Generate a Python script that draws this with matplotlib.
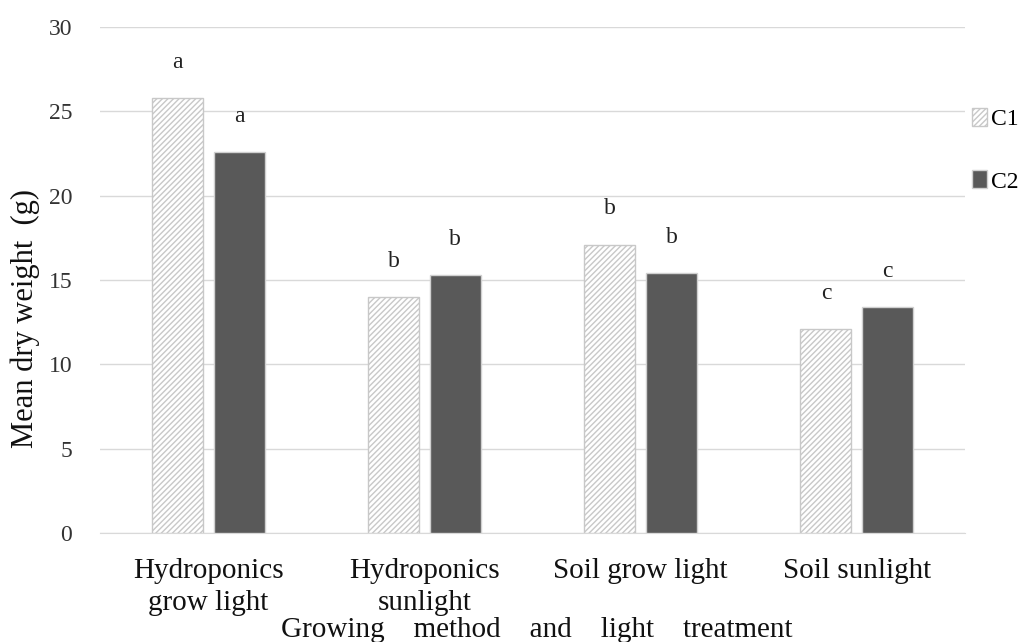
import matplotlib
matplotlib.use("Agg")
import matplotlib.pyplot as plt
import numpy as np

plt.rcParams["font.family"] = ["Liberation Serif", "DejaVu Serif"]
plt.rcParams["hatch.linewidth"] = 1.0

categories = ["Hydroponics\ngrow light", "Hydroponics\nsunlight", "Soil grow light", "Soil sunlight"]
c1 = [25.8, 14.0, 17.1, 12.1]
c2 = [22.6, 15.3, 15.4, 13.4]
c1_letters = ["a", "b", "b", "c"]
c2_letters = ["a", "b", "b", "c"]

fig = plt.figure(figsize=(10.18, 6.42), dpi=100)
ax = fig.add_axes([100 / 1018, 1 - 533 / 642, 865 / 1018, 506 / 642])

x = np.arange(len(categories))
w = 0.236
off = 0.143
ax.bar(x - off, c1, w, color="white", edgecolor="#c8c8c8", hatch="//////", lw=1.0, label="C1", zorder=3)
ax.bar(x + off, c2, w, color="#595959", edgecolor="#d0d0d0", lw=1.0, label="C2", zorder=3)

for xi, v, t in zip(x - off, c1, c1_letters):
    ax.text(xi, v + 1.5, t, ha="center", va="bottom", fontsize=17, color="#222222")
for xi, v, t in zip(x + off, c2, c2_letters):
    ax.text(xi, v + 1.5, t, ha="center", va="bottom", fontsize=17, color="#222222")

ax.set_xlim(-0.5, 3.5)
ax.set_ylim(0, 30)
ax.set_yticks(range(0, 31, 5))
ax.yaxis.grid(True, color="#d9d9d9", lw=1.0, zorder=0)
ax.set_axisbelow(True)
for s in ["top", "right", "left"]:
    ax.spines[s].set_visible(False)
ax.spines["bottom"].set_color("#d9d9d9")
ax.tick_params(axis="both", length=0, colors="#333333")
ax.tick_params(axis="y", pad=20, labelsize=17)
ax.set_xticks(x)
ax.set_xticklabels(categories, fontsize=21, color="#111111", linespacing=1.3)
ax.tick_params(axis="x", pad=18)

ax.set_ylabel("Mean dry weight  (g)", fontsize=22, color="#111111")
ax.yaxis.set_label_coords(-60 / 865, (533 - 318) / 506)
fig.text(537 / 1018, 1 - 630 / 642, "Growing    method    and    light    treatment",
         fontsize=21, color="#111111", ha="center", va="center")

fig.legend(loc="upper left", bbox_to_anchor=(972 / 1018, 1 - 108 / 642), frameon=False, fontsize=17,
           handlelength=0.65, handleheight=0.8, handletextpad=0.15, labelspacing=1.7,
           borderaxespad=0, borderpad=0)

fig.savefig("out.png", dpi=100)
